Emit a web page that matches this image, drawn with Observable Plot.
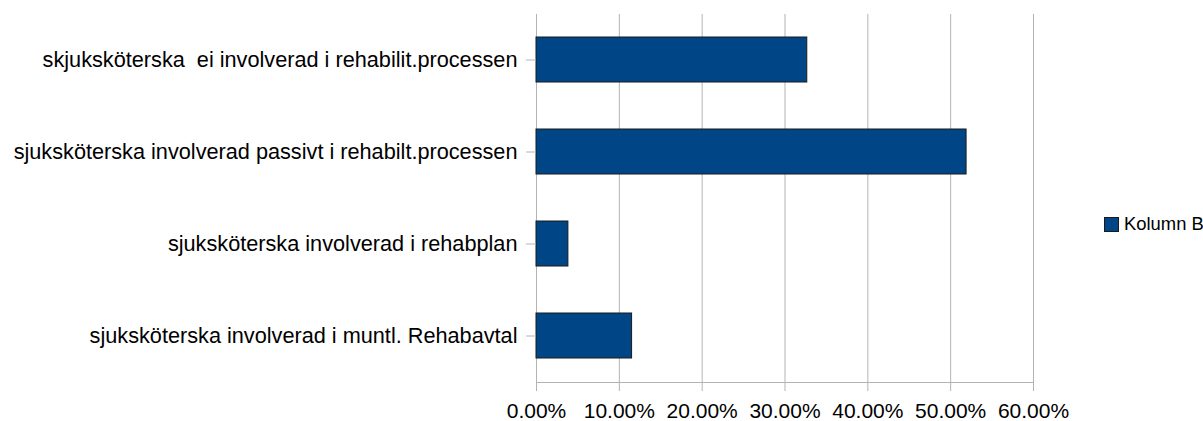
<!DOCTYPE html>
<html>
<head>
<meta charset="utf-8">
<script src="https://cdn.jsdelivr.net/npm/d3@7"></script>
<script src="https://cdn.jsdelivr.net/npm/@observablehq/plot@0.6"></script>
<style>
  html, body { margin: 0; padding: 0; background: #fff; overflow: hidden; }
  #wrap { position: relative; width: 1203px; height: 421px; font-family: "Liberation Sans", Arial, sans-serif; }
  #legend { position: absolute; left: 1104px; top: 213px; display: flex; align-items: center; white-space: nowrap; font-size: 18.4px; color: #000; }
  #legend .sw { width: 13px; height: 13px; background: #004586; border: 1px solid #1a1a1a; margin-right: 5px; }
</style>
</head>
<body>
<div id="wrap"></div>
<script>
const categories = [
  "skjuksköterska  ei involverad i rehabilit.processen",
  "sjuksköterska involverad passivt i rehabilt.processen",
  "sjuksköterska involverad i rehabplan",
  "sjuksköterska involverad i muntl. Rehabavtal"
];
const values = [0.3269, 0.5192, 0.0385, 0.1154];
const xTicks = [0, 0.1, 0.2, 0.3, 0.4, 0.5, 0.6];
const seriesName = "Kolumn B";

const data = categories.map((c, i) => ({label: c, value: values[i]}));

const chart = Plot.plot({
  width: 1203,
  height: 421,
  marginLeft: 536,
  marginRight: 170,
  marginTop: 14,
  marginBottom: 39,
  style: {fontFamily: '"Liberation Sans", Arial, sans-serif', fontSize: "21px", color: "#000", background: "#fff"},
  x: {domain: [0, 0.6], ticks: xTicks},
  y: {domain: categories, paddingInner: 0.51, paddingOuter: 0.255},
  marks: [
    Plot.gridX(xTicks, {stroke: "#b3b3b3", strokeOpacity: 1}),
    Plot.frame({anchor: "bottom", stroke: "#b3b3b3"}),
    Plot.barX(data, {x: "value", y: "label", fill: "#004586", stroke: "#1a1a1a", strokeWidth: 1}),
    Plot.axisX({ticks: xTicks, tickFormat: d3.format(".2%"), tickSize: 9, tickPadding: 12, stroke: "#b3b3b3", fill: "#000", label: null}),
    Plot.axisY({tickSize: 10, tickPadding: 9, stroke: "#b3b3b3", fill: "#000", fontSize: "21.7px", label: null})
  ]
});
document.getElementById("wrap").appendChild(chart);
const lg = document.createElement("div");
lg.id = "legend";
lg.innerHTML = '<div class="sw"></div><span></span>';
lg.querySelector("span").textContent = seriesName;
document.getElementById("wrap").appendChild(lg);
</script>
</body>
</html>
